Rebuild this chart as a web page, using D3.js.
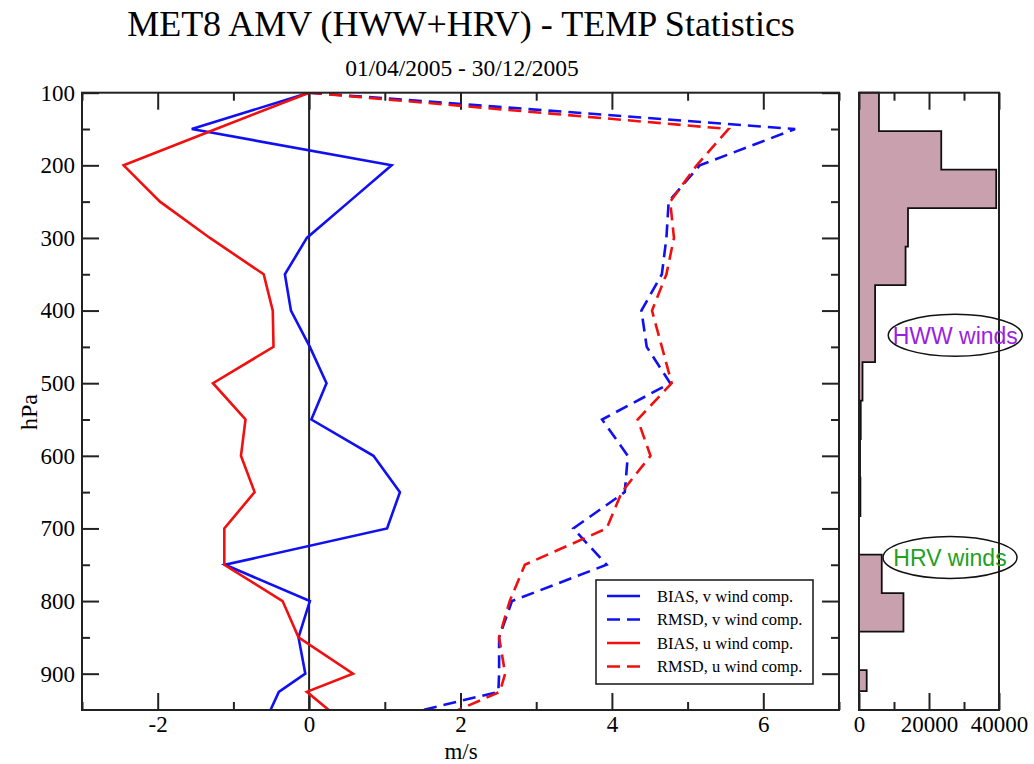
<!DOCTYPE html>
<html><head><meta charset="utf-8">
<script src="https://cdn.jsdelivr.net/npm/d3@7"></script>
<style>body{margin:0;background:#fff}</style>
</head><body><svg id="c" width="1034" height="764"></svg>
<script>
// ---------- data ----------
const title = "MET8 AMV (HWW+HRV) - TEMP Statistics";
const subtitle = "01/04/2005 - 30/12/2005";
const levels = [100,150,200,250,300,350,400,450,500,550,600,650,700,750,800,850,900,925,950];
const biasV = [0,-1.55,1.09,0.53,-0.03,-0.32,-0.24,0.01,0.23,0.03,0.85,1.2,1.03,-1.11,0.01,-0.14,-0.05,-0.4,-0.51];
const rmsdV = [0,6.42,5.16,4.75,4.72,4.66,4.39,4.46,4.77,3.87,4.21,4.17,3.49,3.93,2.68,2.51,2.51,2.5,1.5];
const biasU = [0,-1.23,-2.45,-1.97,-1.31,-0.6,-0.48,-0.47,-1.27,-0.84,-0.9,-0.72,-1.12,-1.12,-0.35,-0.14,0.58,-0.03,0.26];
const rmsdU = [0,5.54,5.12,4.77,4.82,4.72,4.53,4.66,4.79,4.34,4.51,4.13,3.93,2.85,2.65,2.51,2.59,2.52,1.97];
const seriesNames = ["BIAS, v wind comp.","RMSD, v wind comp.","BIAS, u wind comp.","RMSD, u wind comp."];
const xMajorTicks = [-2,0,2,4,6];
const xMinorTicks = [-3,-1,1,3,5,7];
const yMajorTicks = [100,200,300,400,500,600,700,800,900];
const yMinorTicks = [150,250,350,450,550,650,750,850];
const histEdges = [100,153,206,259,312,365,418,471,524,577,630,683,736,789,842,895,924,950];
const histCounts = [5700,23500,39200,14000,13300,4600,4600,1000,500,300,400,0,6500,12700,0,2200,0];
const histMajorTicks = [0,20000,40000];
const histMinorTicks = [10000,30000];
const annotations = [{text:"HWW winds", p:434, c:27500, color:"#9a1fe0"},
                     {text:"HRV winds", p:740, c:26000, color:"#22a022"}];

// ---------- layout ----------
const svg = d3.select("#c");
const L = 82, R = 839, T = 92.7, B = 710;
const HL = 859, HR = 999;
const x = d3.scaleLinear().domain([-3,7]).range([L,R]);
const y = d3.scaleLinear().domain([100,950]).range([T,B]);
const xh = d3.scaleLinear().domain([0,40000]).range([HL,HR]);
const serif = "'Liberation Serif','Times New Roman',serif";
const sans = "'Liberation Sans',Arial,sans-serif";
const fmt = d => String(d);

// titles
svg.append("text").attr("x",461).attr("y",36).attr("text-anchor","middle")
  .attr("font-family",serif).attr("font-size",36).text(title);
svg.append("text").attr("x",462).attr("y",76).attr("text-anchor","middle")
  .attr("font-family",serif).attr("font-size",23.5).text(subtitle);

// ---------- histogram ----------
const hg = svg.append("g");
const hpts = [];
histCounts.forEach((c,i)=>{ hpts.push([c, histEdges[i]]); hpts.push([c, histEdges[i+1]]); });
const hArea = d3.area().y(d=>y(d[1])).x0(xh(0)).x1(d=>xh(d[0]));
hg.append("path").attr("d", hArea(hpts)).attr("fill","#c9a1ae").attr("stroke","none");
const hLine = d3.line().x(d=>xh(d[0])).y(d=>y(d[1]));
hg.append("path").attr("d", hLine([[0,histEdges[0]], ...hpts, [0,histEdges[histEdges.length-1]]]))
  .attr("fill","none").attr("stroke","#111").attr("stroke-width",1.8);

function styleAxis(g){ g.select(".domain").remove(); g.selectAll("line").attr("stroke","#222").attr("stroke-width",2);
  g.selectAll("text").attr("font-family",serif).attr("font-size",23).attr("fill","#000"); }

svg.append("g").attr("transform",`translate(0,${B})`)
  .call(d3.axisBottom(xh).tickValues(histMajorTicks).tickSize(-17).tickPadding(6).tickFormat(fmt)).call(styleAxis);
svg.append("g").attr("transform",`translate(0,${B})`)
  .call(d3.axisBottom(xh).tickValues(histMinorTicks).tickSize(-8).tickFormat("")).call(styleAxis);
svg.append("g").attr("transform",`translate(0,${T})`)
  .call(d3.axisTop(xh).tickValues(histMajorTicks).tickSize(-17).tickFormat("")).call(styleAxis);
svg.append("g").attr("transform",`translate(0,${T})`)
  .call(d3.axisTop(xh).tickValues(histMinorTicks).tickSize(-8).tickFormat("")).call(styleAxis);
svg.append("rect").attr("x",HL).attr("y",T).attr("width",HR-HL).attr("height",B-T)
  .attr("fill","none").attr("stroke","#222").attr("stroke-width",2);

// annotations
annotations.forEach(a=>{
  const g = svg.append("g").attr("transform",`translate(${xh(a.c)},${y(a.p)})`);
  g.append("ellipse").attr("rx",67).attr("ry",21).attr("fill","none").attr("stroke","#111").attr("stroke-width",1.5);
  g.append("text").attr("text-anchor","middle").attr("dy","0.36em").attr("font-family",sans)
    .attr("font-size",23).attr("fill",a.color).text(a.text);
});

// ---------- main plot ----------
svg.append("g").attr("transform",`translate(0,${B})`)
  .call(d3.axisBottom(x).tickValues(xMajorTicks).tickSize(-17).tickPadding(6).tickFormat(fmt)).call(styleAxis);
svg.append("g").attr("transform",`translate(0,${B})`)
  .call(d3.axisBottom(x).tickValues(xMinorTicks).tickSize(-8).tickFormat("")).call(styleAxis);
svg.append("g").attr("transform",`translate(0,${T})`)
  .call(d3.axisTop(x).tickValues(xMajorTicks).tickSize(-17).tickFormat("")).call(styleAxis);
svg.append("g").attr("transform",`translate(0,${T})`)
  .call(d3.axisTop(x).tickValues(xMinorTicks).tickSize(-8).tickFormat("")).call(styleAxis);
svg.append("g").attr("transform",`translate(${L},0)`)
  .call(d3.axisLeft(y).tickValues(yMajorTicks).tickSize(-17).tickPadding(7).tickFormat(fmt)).call(styleAxis);
svg.append("g").attr("transform",`translate(${L},0)`)
  .call(d3.axisLeft(y).tickValues(yMinorTicks).tickSize(-8).tickFormat("")).call(styleAxis);
svg.append("g").attr("transform",`translate(${R},0)`)
  .call(d3.axisRight(y).tickValues(yMajorTicks).tickSize(-17).tickFormat("")).call(styleAxis);
svg.append("g").attr("transform",`translate(${R},0)`)
  .call(d3.axisRight(y).tickValues(yMinorTicks).tickSize(-8).tickFormat("")).call(styleAxis);

// zero line
svg.append("line").attr("x1",x(0)).attr("x2",x(0)).attr("y1",T).attr("y2",B)
  .attr("stroke","#222").attr("stroke-width",2);

svg.append("clipPath").attr("id","pc").append("rect")
  .attr("x",L).attr("y",T).attr("width",R-L).attr("height",B-T);
const series = [
  {vals:biasV, color:"#1010f0", dash:null},
  {vals:rmsdV, color:"#1010f0", dash:"13,7"},
  {vals:biasU, color:"#f01010", dash:null},
  {vals:rmsdU, color:"#f01010", dash:"13,7"}
];
const line = d3.line().x(d=>x(d[0])).y(d=>y(d[1]));
const pg = svg.append("g").attr("clip-path","url(#pc)");
series.forEach(s=>{
  pg.append("path").attr("d", line(s.vals.map((v,i)=>[v,levels[i]])))
    .attr("fill","none").attr("stroke",s.color).attr("stroke-width",2.6)
    .attr("stroke-dasharray",s.dash).attr("stroke-linejoin","miter");
});

svg.append("rect").attr("x",L).attr("y",T).attr("width",R-L).attr("height",B-T)
  .attr("fill","none").attr("stroke","#222").attr("stroke-width",2);

// legend
const lg = svg.append("g");
lg.append("rect").attr("x",596).attr("y",580).attr("width",217).attr("height",104)
  .attr("fill","#fff").attr("stroke","#222").attr("stroke-width",1.6);
series.forEach((s,i)=>{
  const cy = 596 + i*23.5;
  lg.append("line").attr("x1",607).attr("x2",640).attr("y1",cy).attr("y2",cy)
    .attr("stroke",s.color).attr("stroke-width",2.6).attr("stroke-dasharray",s.dash ? "13,7":null);
  lg.append("text").attr("x",657).attr("y",cy+5.5).attr("font-family",serif).attr("font-size",16.5)
    .text(seriesNames[i]);
});

// axis labels
svg.append("text").attr("x",461).attr("y",759).attr("text-anchor","middle")
  .attr("font-family",serif).attr("font-size",23).text("m/s");
svg.append("text").attr("transform","translate(37,412) rotate(-90)").attr("text-anchor","middle")
  .attr("font-family",serif).attr("font-size",24).text("hPa");
</script></body></html>
